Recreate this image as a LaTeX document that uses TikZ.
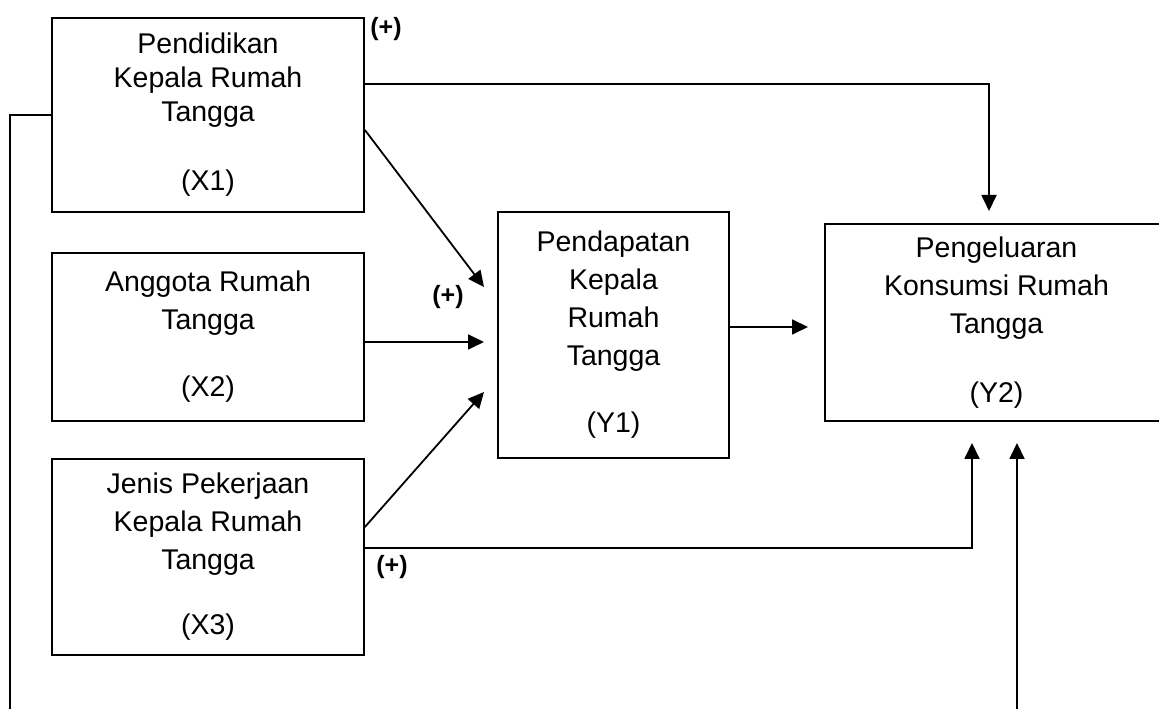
\documentclass[tikz,border=0pt]{standalone}
\usepackage{fontspec}
\setmainfont{Liberation Sans}
\usetikzlibrary{arrows.meta}

\begin{document}
\begin{tikzpicture}[x=1pt, y=1pt, boxStyle/.style={rectangle, draw, line width=1.8pt, align=center, inner sep=0pt, font=\fontsize{28.5}{38}\selectfont}, signStyle/.style={font=\fontsize{25}{30}\selectfont\bfseries, inner sep=0pt}, arrowStyle/.style={line width=1.8pt, -{Triangle[length=16pt, width=15pt]}}, lineStyle/.style={line width=1.8pt}]
                    \useasboundingbox (0, 0) rectangle (1159, 709);

                    \node[boxStyle, minimum width=312pt, minimum height=194pt, font=\fontsize{28.5}{34}\selectfont] (X1) at (208, 594) {Pendidikan\\Kepala Rumah\\Tangga\\[35pt](X1)};
                    \node[boxStyle, minimum width=312pt, minimum height=168pt] (X2) at (208, 372) {Anggota Rumah\\Tangga\\[29pt](X2)};
                    \node[boxStyle, minimum width=312pt, minimum height=196pt] (X3) at (208, 152) {Jenis Pekerjaan\\Kepala Rumah\\Tangga\\[27pt](X3)};

                    \node[boxStyle, minimum width=231pt, minimum height=246pt] (Y1) at (613.5, 374) {Pendapatan\\Kepala\\Rumah\\Tangga\\[29pt](Y1)};
                    \node[boxStyle, minimum width=343pt, minimum height=197pt] (Y2) at (996.5, 386.5) {Pengeluaran\\Konsumsi Rumah\\Tangga\\[31pt](Y2)};

                    \node[signStyle] (S1) at (386, 680) {(+)};
                    \node[signStyle] (S2) at (448, 412) {(+)};
                    \node[signStyle] (S3) at (392, 142) {(+)};

                    \coordinate (in_1) at (484, 422);
                    \coordinate (in_2) at (484, 367);
                    \coordinate (in_3) at (484, 317);
                    \coordinate (in_4) at (989, 498);
                    \coordinate (in_5) at (972, 266);
                    \coordinate (in_6) at (1017, 266);
                    \coordinate (in_7) at (808, 382);
                    \coordinate (out_L) at (10, -2);
                    \coordinate (out_R) at (1017, -2);

                    \draw[arrowStyle] ([yshift=-15pt]X1.east) -- (in_1);
                    \draw[arrowStyle] (X2.east |- in_2) -- (in_2);
                    \draw[arrowStyle] ([yshift=30pt]X3.east) -- (in_3);

                    \draw[arrowStyle] ([yshift=31pt]X1.east) -| (in_4);
                    \draw[arrowStyle] ([yshift=9pt]X3.east) -| (in_5);
                    \draw[arrowStyle] ([yshift=8pt]Y1.east) -- (in_7);

                    \draw[arrowStyle] (out_R) -- (in_6);
                    \draw[lineStyle] (X1.west) -| (out_L);
                \end{tikzpicture}
\end{document}
